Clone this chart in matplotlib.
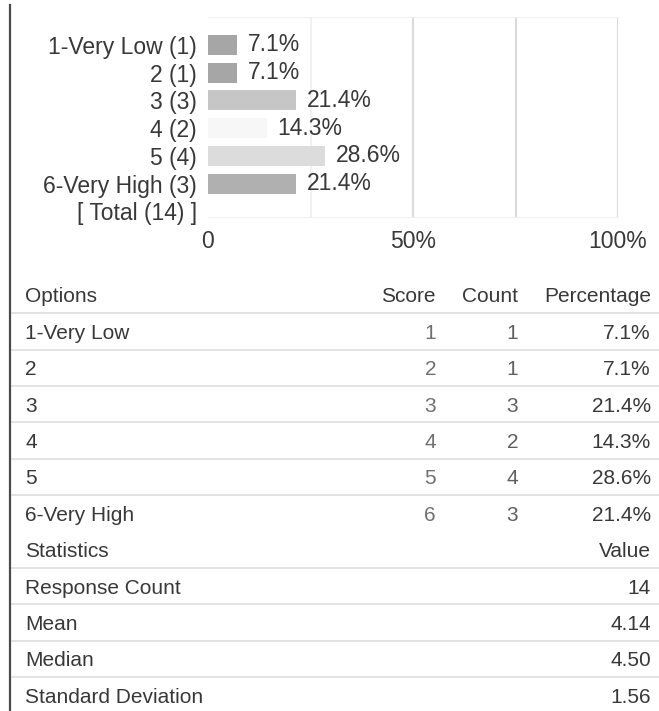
import matplotlib
matplotlib.use("Agg")
import matplotlib.pyplot as plt

# --- data ---
options = ['1-Very Low', '2', '3', '4', '5', '6-Very High']
scores = [1, 2, 3, 4, 5, 6]
counts = [1, 1, 3, 2, 4, 3]
percents = [7.1, 7.1, 21.4, 14.3, 28.6, 21.4]
total = 14
bar_colors = ['#a6a6a6', '#a6a6a6', '#c6c6c6', '#f7f7f7', '#dcdcdc', '#b0b0b0']
stat_names = ['Response Count', 'Mean', 'Median', 'Standard Deviation']
stat_values = ['14', '4.14', '4.50', '1.56']

W, H = 659, 711
plt.rcParams['font.family'] = ['Liberation Sans', 'DejaVu Sans']
txt = '#383838'
fig = plt.figure(figsize=(W / 100, H / 100), dpi=100)
fig.patch.set_facecolor('white')

# --- bar chart (axes placed in pixel terms) ---
ax = fig.add_axes([208 / W, 1 - 217 / H, (618 - 208) / W, 200 / H])
ypos = list(range(len(options)))
ax.barh(ypos, percents, height=0.72, color=bar_colors, zorder=2)
for y, p in zip(ypos, percents):
    ax.annotate(f"{p}%", (p, y), xytext=(8, 0), textcoords='offset points',
                va='center', ha='left', fontsize=16.5, color=txt)

labels = [f"{o} ({c})" for o, c in zip(options, counts)] + [f"[ Total ({total}) ]"]
ax.set_yticks(list(range(len(labels))))
ax.set_yticklabels(labels, fontsize=16.5, color=txt)
ax.set_ylim(6.2, -1.0)
ax.set_xlim(0, 100)
ax.set_xticks([0, 50, 100])
ax.set_xticklabels(['0', '50%', '100%'], fontsize=16.5, color=txt)
ax.tick_params(axis='both', which='both', length=0)
ax.tick_params(axis='y', pad=8)
ax.tick_params(axis='x', pad=9)
# faint vertical guides, the 25% one barely visible on the scan
ax.axvline(25, color='#f0f0f0', linewidth=1.3, zorder=0)
for gx in [50, 75, 100]:
    ax.axvline(gx, color='#dadada', linewidth=1.5, zorder=0)
for side in ['left', 'right']:
    ax.spines[side].set_visible(False)
for side in ['top', 'bottom']:
    ax.spines[side].set_color('#f0f0f0')

# --- table below, drawn in a full-figure pixel overlay ---
tab = fig.add_axes([0, 0, 1, 1], zorder=-1)
tab.set_xlim(0, W)
tab.set_ylim(H, 0)
tab.axis('off')

row0, pitch = 295, 36.4
fs = 15
cap = 7.5


def put(x, y, s, ha='left', color=txt):
    tab.text(x, y + cap, s, ha=ha, va='baseline', fontsize=fs, color=color)


put(25, row0, 'Options')
put(436, row0, 'Score', ha='right')
put(518, row0, 'Count', ha='right')
put(651, row0, 'Percentage', ha='right')

for i, (o, s, c, p) in enumerate(zip(options, scores, counts, percents)):
    y = row0 + pitch * (i + 1)
    put(25, y, o)
    put(436, y, str(s), ha='right', color='#707070')
    put(518, y, str(c), ha='right', color='#606060')
    put(651, y, f"{p}%", ha='right')

stat_row = len(options) + 1
put(25, row0 + pitch * stat_row, 'Statistics')
put(651, row0 + pitch * stat_row, 'Value', ha='right')
for j, (n, v) in enumerate(zip(stat_names, stat_values)):
    y = row0 + pitch * (stat_row + 1 + j)
    put(25, y, n)
    put(651, y, v, ha='right')

# separators between rows (none between the last option and the Statistics header)
n_rows = stat_row + 1 + len(stat_names)
for k in range(n_rows - 1):
    if k == len(options):
        continue
    y = row0 + pitch * (k + 0.5)
    tab.plot([12, W], [y, y], color='#dedede', linewidth=1.2)

# page border on the left
tab.plot([10, 10], [5, H], color='#4a4a4a', linewidth=1.6)

fig.savefig('out.png', dpi=100, facecolor='white')
